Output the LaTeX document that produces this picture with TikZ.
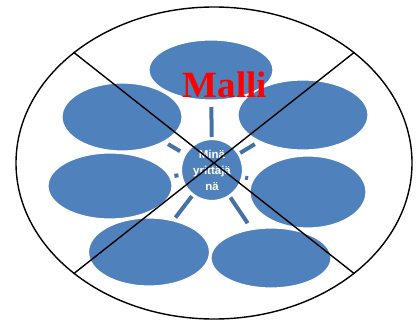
\documentclass[tikz,border=0pt]{standalone}
\usepackage{fontspec}
\setmainfont{Liberation Serif}
\newfontfamily\hubfont{Liberation Sans}
\usetikzlibrary{shapes.geometric,calc,backgrounds}
\definecolor{petalblue}{RGB}{79,129,189}
\definecolor{spokeblue}{RGB}{70,113,163}
\definecolor{malired}{RGB}{255,0,0}
\tikzset{
  petal/.style={ellipse, fill=petalblue, draw=white, line width=1.2pt, inner sep=0pt},
  hub/.style={circle, fill=petalblue, draw=white, line width=1.2pt, minimum size=61pt, inner sep=0pt,
              text=white, font=\hubfont\bfseries\fontsize{11.5}{16}\selectfont, align=center},
  spoke/.style={spokeblue, line width=4pt},
  frame/.style={ellipse, draw=black, line width=1.4pt, inner sep=0pt},
  crossline/.style={black, line width=1.4pt},
  title/.style={text=malired, font=\bfseries\fontsize{37}{40}\selectfont, inner sep=0pt},
}
\begin{document}
\begin{tikzpicture}[x=1pt, y=-1pt]
\useasboundingbox (0,0) rectangle (419,320);
% petals round the hub
\node[petal, minimum width=124pt, minimum height=60pt] (top) at (211,70) {};
\node[petal, minimum width=130pt, minimum height=70pt] (ur) at (303,115) {};
\node[petal, minimum width=116pt, minimum height=72pt] (mr) at (308,192) {};
\node[petal, minimum width=120pt, minimum height=60pt] (br) at (271,258) {};
\node[petal, minimum width=121pt, minimum height=68pt] (bl) at (149,252) {};
\node[petal, minimum width=120pt, minimum height=68pt] (ul) at (122,117) {};
\node[petal, minimum width=124pt, minimum height=66pt] (ml) at (110,186) {};
\node[hub] (hub) at (212,170) {Minä\\yrittäjä\\nä};
% short bars between hub and petals
\begin{scope}[on background layer]
\foreach \e/\a/\b in {top/33/63, ul/37/51, ur/33/50, ml/34/38, mr/34/37, bl/33/60, br/33/64}
  \draw[spoke] ($(hub)!\a pt!(\e)$) -- ($(hub)!\b pt!(\e)$);
\end{scope}
\node[title, anchor=base] (malli) at (225,98) {Malli};
% crossed-out frame
\node[frame, minimum width=396pt, minimum height=312pt] (rim) at (214,163) {};
\draw[crossline] (rim.north west) -- (rim.south east);
\draw[crossline] (rim.north east) -- (rim.south west);
\end{tikzpicture}
\end{document}
